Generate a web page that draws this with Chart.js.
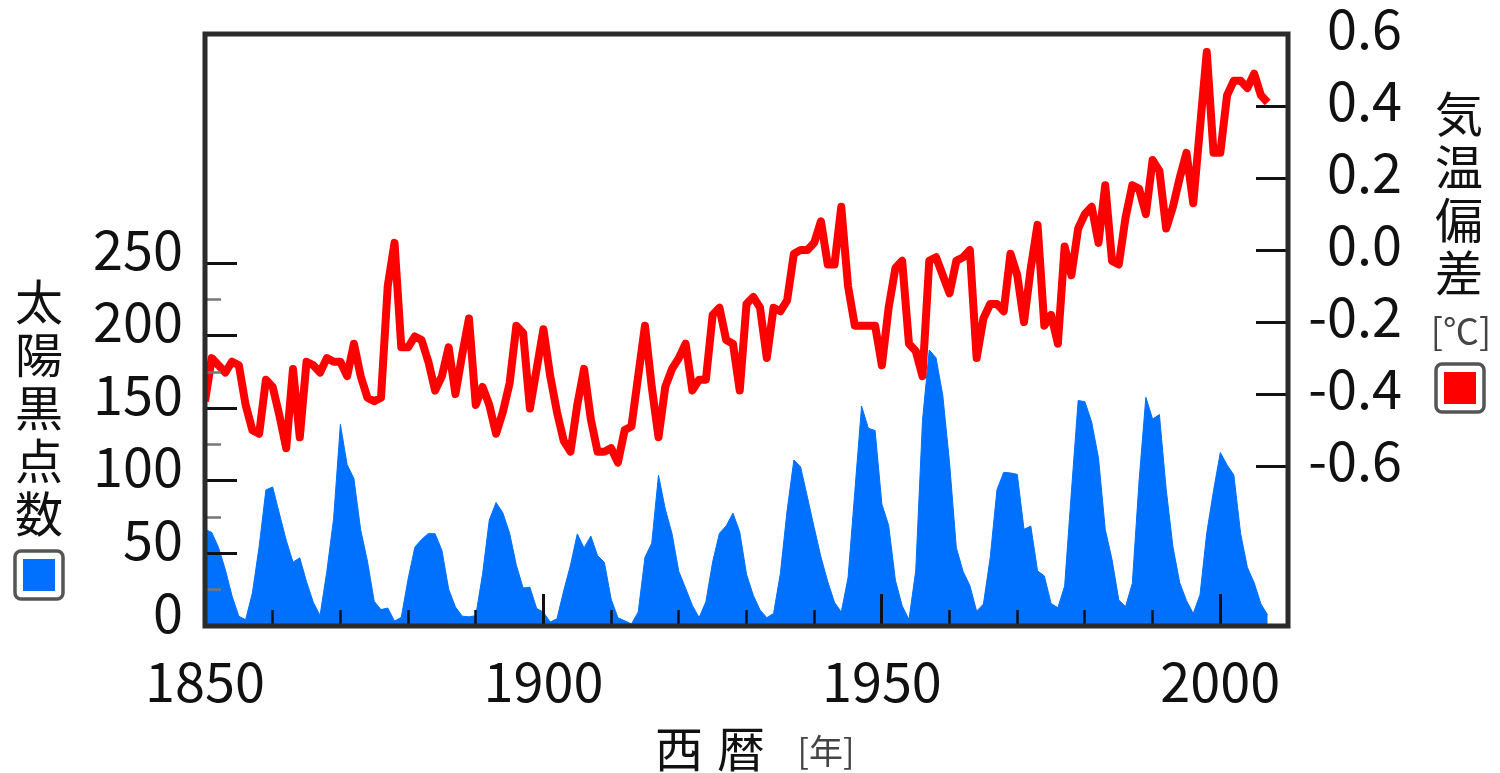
<!DOCTYPE html>
<html><head><meta charset="utf-8">
<script src="https://cdn.jsdelivr.net/npm/chart.js@4/dist/chart.umd.min.js"></script>
<style>html,body{margin:0;padding:0;background:#fff;overflow:hidden}canvas{display:block}</style>
</head><body>
<canvas id="c" width="1500" height="773"></canvas>
<script>
// ---- data ----
const years = [
1850,1851,1852,1853,1854,1855,1856,1857,1858,1859,
1860,1861,1862,1863,1864,1865,1866,1867,1868,1869,
1870,1871,1872,1873,1874,1875,1876,1877,1878,1879,
1880,1881,1882,1883,1884,1885,1886,1887,1888,1889,
1890,1891,1892,1893,1894,1895,1896,1897,1898,1899,
1900,1901,1902,1903,1904,1905,1906,1907,1908,1909,
1910,1911,1912,1913,1914,1915,1916,1917,1918,1919,
1920,1921,1922,1923,1924,1925,1926,1927,1928,1929,
1930,1931,1932,1933,1934,1935,1936,1937,1938,1939,
1940,1941,1942,1943,1944,1945,1946,1947,1948,1949,
1950,1951,1952,1953,1954,1955,1956,1957,1958,1959,
1960,1961,1962,1963,1964,1965,1966,1967,1968,1969,
1970,1971,1972,1973,1974,1975,1976,1977,1978,1979,
1980,1981,1982,1983,1984,1985,1986,1987,1988,1989,
1990,1991,1992,1993,1994,1995,1996,1997,1998,1999,
2000,2001,2002,2003,2004,2005,2006,2007];

const sunspots = [
66.6,64.5,54.1,39.0,20.6,6.7,4.3,22.7,54.8,93.8,
95.8,77.2,59.1,44.0,47.0,30.5,16.3,7.3,37.6,74.0,
139.0,111.2,101.6,66.2,44.7,17.0,11.3,12.4,3.4,6.0,
32.3,54.3,59.7,63.7,63.5,52.2,25.4,13.1,6.8,6.3,
7.1,35.6,73.0,85.1,78.0,64.0,41.8,26.2,26.7,12.1,
9.5,2.7,5.0,24.4,42.0,63.5,53.8,62.0,48.5,43.9,
18.6,5.7,3.6,1.4,9.6,47.4,57.1,103.9,80.6,63.6,
37.6,26.1,14.2,5.8,16.7,44.3,63.9,69.0,77.8,64.9,
35.7,21.2,11.1,5.7,8.7,36.1,79.7,114.4,109.6,88.8,
67.8,47.5,30.6,16.3,9.6,33.2,92.6,151.6,136.3,134.7,
83.9,69.4,31.5,13.9,4.4,38.0,141.7,190.2,184.8,159.0,
112.3,53.9,37.6,27.9,10.2,15.1,47.0,93.8,105.9,105.5,
104.5,66.6,68.9,38.0,34.5,15.5,12.6,27.5,92.5,155.4,
154.6,140.4,115.9,66.6,45.9,17.9,13.4,29.4,100.2,157.6,
142.6,145.7,94.3,54.6,29.9,17.5,8.6,21.5,64.3,93.3,
119.6,111.0,104.0,63.7,40.4,29.8,15.2,7.5];

const tempAnomaly = [
-0.42,-0.30,-0.32,-0.34,-0.31,-0.32,-0.43,-0.50,-0.51,-0.36,
-0.38,-0.46,-0.55,-0.33,-0.52,-0.31,-0.32,-0.34,-0.30,-0.31,
-0.31,-0.35,-0.26,-0.35,-0.41,-0.42,-0.41,-0.10,0.02,-0.27,
-0.27,-0.24,-0.25,-0.31,-0.39,-0.35,-0.27,-0.40,-0.29,-0.19,
-0.43,-0.38,-0.43,-0.51,-0.45,-0.37,-0.21,-0.23,-0.44,-0.33,
-0.22,-0.35,-0.45,-0.53,-0.56,-0.43,-0.33,-0.47,-0.56,-0.56,
-0.55,-0.59,-0.50,-0.49,-0.35,-0.21,-0.38,-0.52,-0.38,-0.33,
-0.30,-0.26,-0.39,-0.36,-0.36,-0.18,-0.16,-0.25,-0.26,-0.39,
-0.15,-0.13,-0.16,-0.30,-0.16,-0.17,-0.14,-0.01,0.00,0.00,
0.02,0.08,-0.04,-0.04,0.12,-0.10,-0.21,-0.21,-0.21,-0.21,
-0.32,-0.16,-0.05,-0.03,-0.26,-0.28,-0.35,-0.03,-0.02,-0.07,
-0.12,-0.03,-0.02,0.00,-0.30,-0.19,-0.15,-0.15,-0.17,-0.01,
-0.07,-0.20,-0.05,0.07,-0.21,-0.18,-0.26,0.01,-0.07,0.06,
0.10,0.12,0.02,0.18,-0.03,-0.04,0.09,0.18,0.17,0.10,
0.25,0.22,0.06,0.12,0.20,0.27,0.13,0.34,0.55,0.27,
0.27,0.43,0.47,0.47,0.45,0.49,0.43,0.41];

const xTickLabels = [1850, 1900, 1950, 2000];
const sunspotTickLabels = [0, 50, 100, 150, 200, 250];
const tempTickLabels = ['-0.6', '-0.4', '-0.2', '0.0', '0.2', '0.4', '0.6'];

const leftTitle = '太陽黒点数';
const rightTitle = '気温偏差';
const rightUnit = '[℃]';
const xTitle = ['西', '暦'];
const xUnit = '[年]';

// ---- styling ----
const FONT = "'Noto Sans CJK JP', 'Noto Sans', sans-serif";
const BLUE = '#0070ff';
const RED = '#ff0000';
const TICK_DARK = '#111';
const TICK_MINOR = '#777';

function legendBox(c, cx, cy, color) {
  const s = 48, r = 6;
  const x = cx - s / 2, y = cy - s / 2;
  c.save();
  c.beginPath();
  c.moveTo(x + r, y);
  c.arcTo(x + s, y, x + s, y + s, r);
  c.arcTo(x + s, y + s, x, y + s, r);
  c.arcTo(x, y + s, x, y, r);
  c.arcTo(x, y, x + s, y, r);
  c.closePath();
  c.fillStyle = '#fff';
  c.fill();
  c.lineWidth = 3.5;
  c.strokeStyle = '#555';
  c.stroke();
  c.fillStyle = color;
  c.fillRect(cx - 16, cy - 16, 32, 32);
  c.restore();
}

const decor = {
  id: 'decor',
  afterDraw(chart) {
    const c = chart.ctx;
    const a = chart.chartArea;
    c.save();
    // frame
    c.strokeStyle = '#2b2b2b';
    c.lineWidth = 5;
    c.strokeRect(a.left, a.top, a.right - a.left, a.bottom - a.top);
    // left title (vertical)
    c.fillStyle = '#111';
    c.textAlign = 'center';
    c.textBaseline = 'middle';
    c.font = '48px ' + FONT;
    [...leftTitle].forEach((ch, i) => c.fillText(ch, 39, 302 + i * 53));
    legendBox(c, 39, 575, BLUE);
    // right title (vertical)
    [...rightTitle].forEach((ch, i) => c.fillText(ch, 1459, 114 + i * 53));
    c.font = '36px ' + FONT;
    c.fillStyle = '#444';
    c.fillText(rightUnit, 1461, 331);
    legendBox(c, 1460, 388, RED);
    // x title
    c.fillStyle = '#111';
    c.font = '48px ' + FONT;
    c.fillText(xTitle[0], 679, 749);
    c.fillText(xTitle[1], 741, 749);
    c.font = '34px ' + FONT;
    c.fillStyle = '#444';
    c.fillText(xUnit, 826, 751);
    c.restore();
  }
};

const tickFont = { family: FONT, size: 54, lineHeight: 1 };
const noPad = s => { s.paddingTop = 0; s.paddingBottom = 0; s.paddingLeft = 0; s.paddingRight = 0; };

new Chart(document.getElementById('c'), {
  type: 'line',
  data: {
    datasets: [
      {
        label: rightTitle,
        data: years.map((y, i) => ({ x: y, y: tempAnomaly[i] })),
        yAxisID: 'yT',
        borderColor: RED,
        borderWidth: 8,
        borderJoinStyle: 'round',
        pointRadius: 0,
        fill: false,
        tension: 0,
        order: 0
      },
      {
        label: leftTitle,
        data: years.map((y, i) => ({ x: y, y: sunspots[i] })),
        yAxisID: 'yS',
        borderColor: BLUE,
        backgroundColor: BLUE,
        borderWidth: 1,
        pointRadius: 0,
        fill: 'origin',
        tension: 0,
        order: 1
      }
    ]
  },
  options: {
    responsive: false,
    animation: false,
    events: [],
    layout: { padding: { left: 0, top: 34, right: 98, bottom: 0 } },
    plugins: { legend: { display: false }, tooltip: { enabled: false } },
    scales: {
      x: {
        type: 'linear',
        position: 'bottom',
        min: 1850,
        max: 2010,
        afterFit: s => { s.height = 147; noPad(s); },
        ticks: {
          stepSize: 10,
          autoSkip: false,
          maxRotation: 0,
          padding: 60,
          font: tickFont,
          color: '#111',
          callback: v => xTickLabels.includes(v) ? String(v) : ''
        },
        grid: {
          z: 1,
          drawOnChartArea: false,
          tickLength: -32,
          tickWidth: c => (c.tick && c.tick.value % 50 === 0) ? 3 : 2.5,
          tickColor: TICK_DARK,
          tickBorderDash: c => (c.tick && c.tick.value % 50 === 0) ? [] : [16, 100]
        },
        border: { display: false }
      },
      yS: {
        type: 'linear',
        position: 'left',
        min: 0,
        max: 408,
        afterFit: s => { s.width = 205; noPad(s); },
        afterBuildTicks: s => { s.ticks = s.ticks.filter(t => t.value <= 250); },
        ticks: {
          stepSize: 25,
          padding: 54,
          labelOffset: -14,
          font: tickFont,
          color: '#111',
          callback: v => sunspotTickLabels.includes(v) ? String(v) : ''
        },
        grid: {
          z: 1,
          drawOnChartArea: false,
          tickLength: -32,
          tickWidth: c => (c.tick && c.tick.value % 50 === 0) ? 3 : 2.5,
          tickColor: c => (c.tick && c.tick.value % 50 === 0) ? TICK_DARK : TICK_MINOR,
          tickBorderDash: c => (c.tick && c.tick.value % 50 === 0) ? [] : [0, 16, 20, 0]
        },
        border: { display: false }
      },
      yT: {
        type: 'linear',
        position: 'right',
        min: -1.044,
        max: 0.6,
        afterFit: s => { s.width = 114; noPad(s); },
        afterBuildTicks: s => { s.ticks = s.ticks.filter(t => t.value > -0.65 && t.value < 0.65); },
        ticks: {
          stepSize: 0.1,
          crossAlign: 'far',
          labelOffset: -6,
          font: tickFont,
          color: '#111',
          callback: v => {
            const k = Math.round(v * 10);
            return (k % 2 === 0) ? tempTickLabels[(k + 6) / 2] : '';
          }
        },
        grid: {
          z: 1,
          drawOnChartArea: false,
          tickLength: -32,
          tickWidth: c => (c.tick && Math.round(c.tick.value * 10) % 2 === 0) ? 3 : 2.5,
          tickColor: c => (c.tick && Math.round(c.tick.value * 10) % 2 === 0) ? TICK_DARK : TICK_MINOR,
          tickBorderDash: c => (c.tick && Math.round(c.tick.value * 10) % 2 === 0) ? [] : [16, 100]
        },
        border: { display: false }
      }
    }
  },
  plugins: [decor]
});
</script>
</body></html>
